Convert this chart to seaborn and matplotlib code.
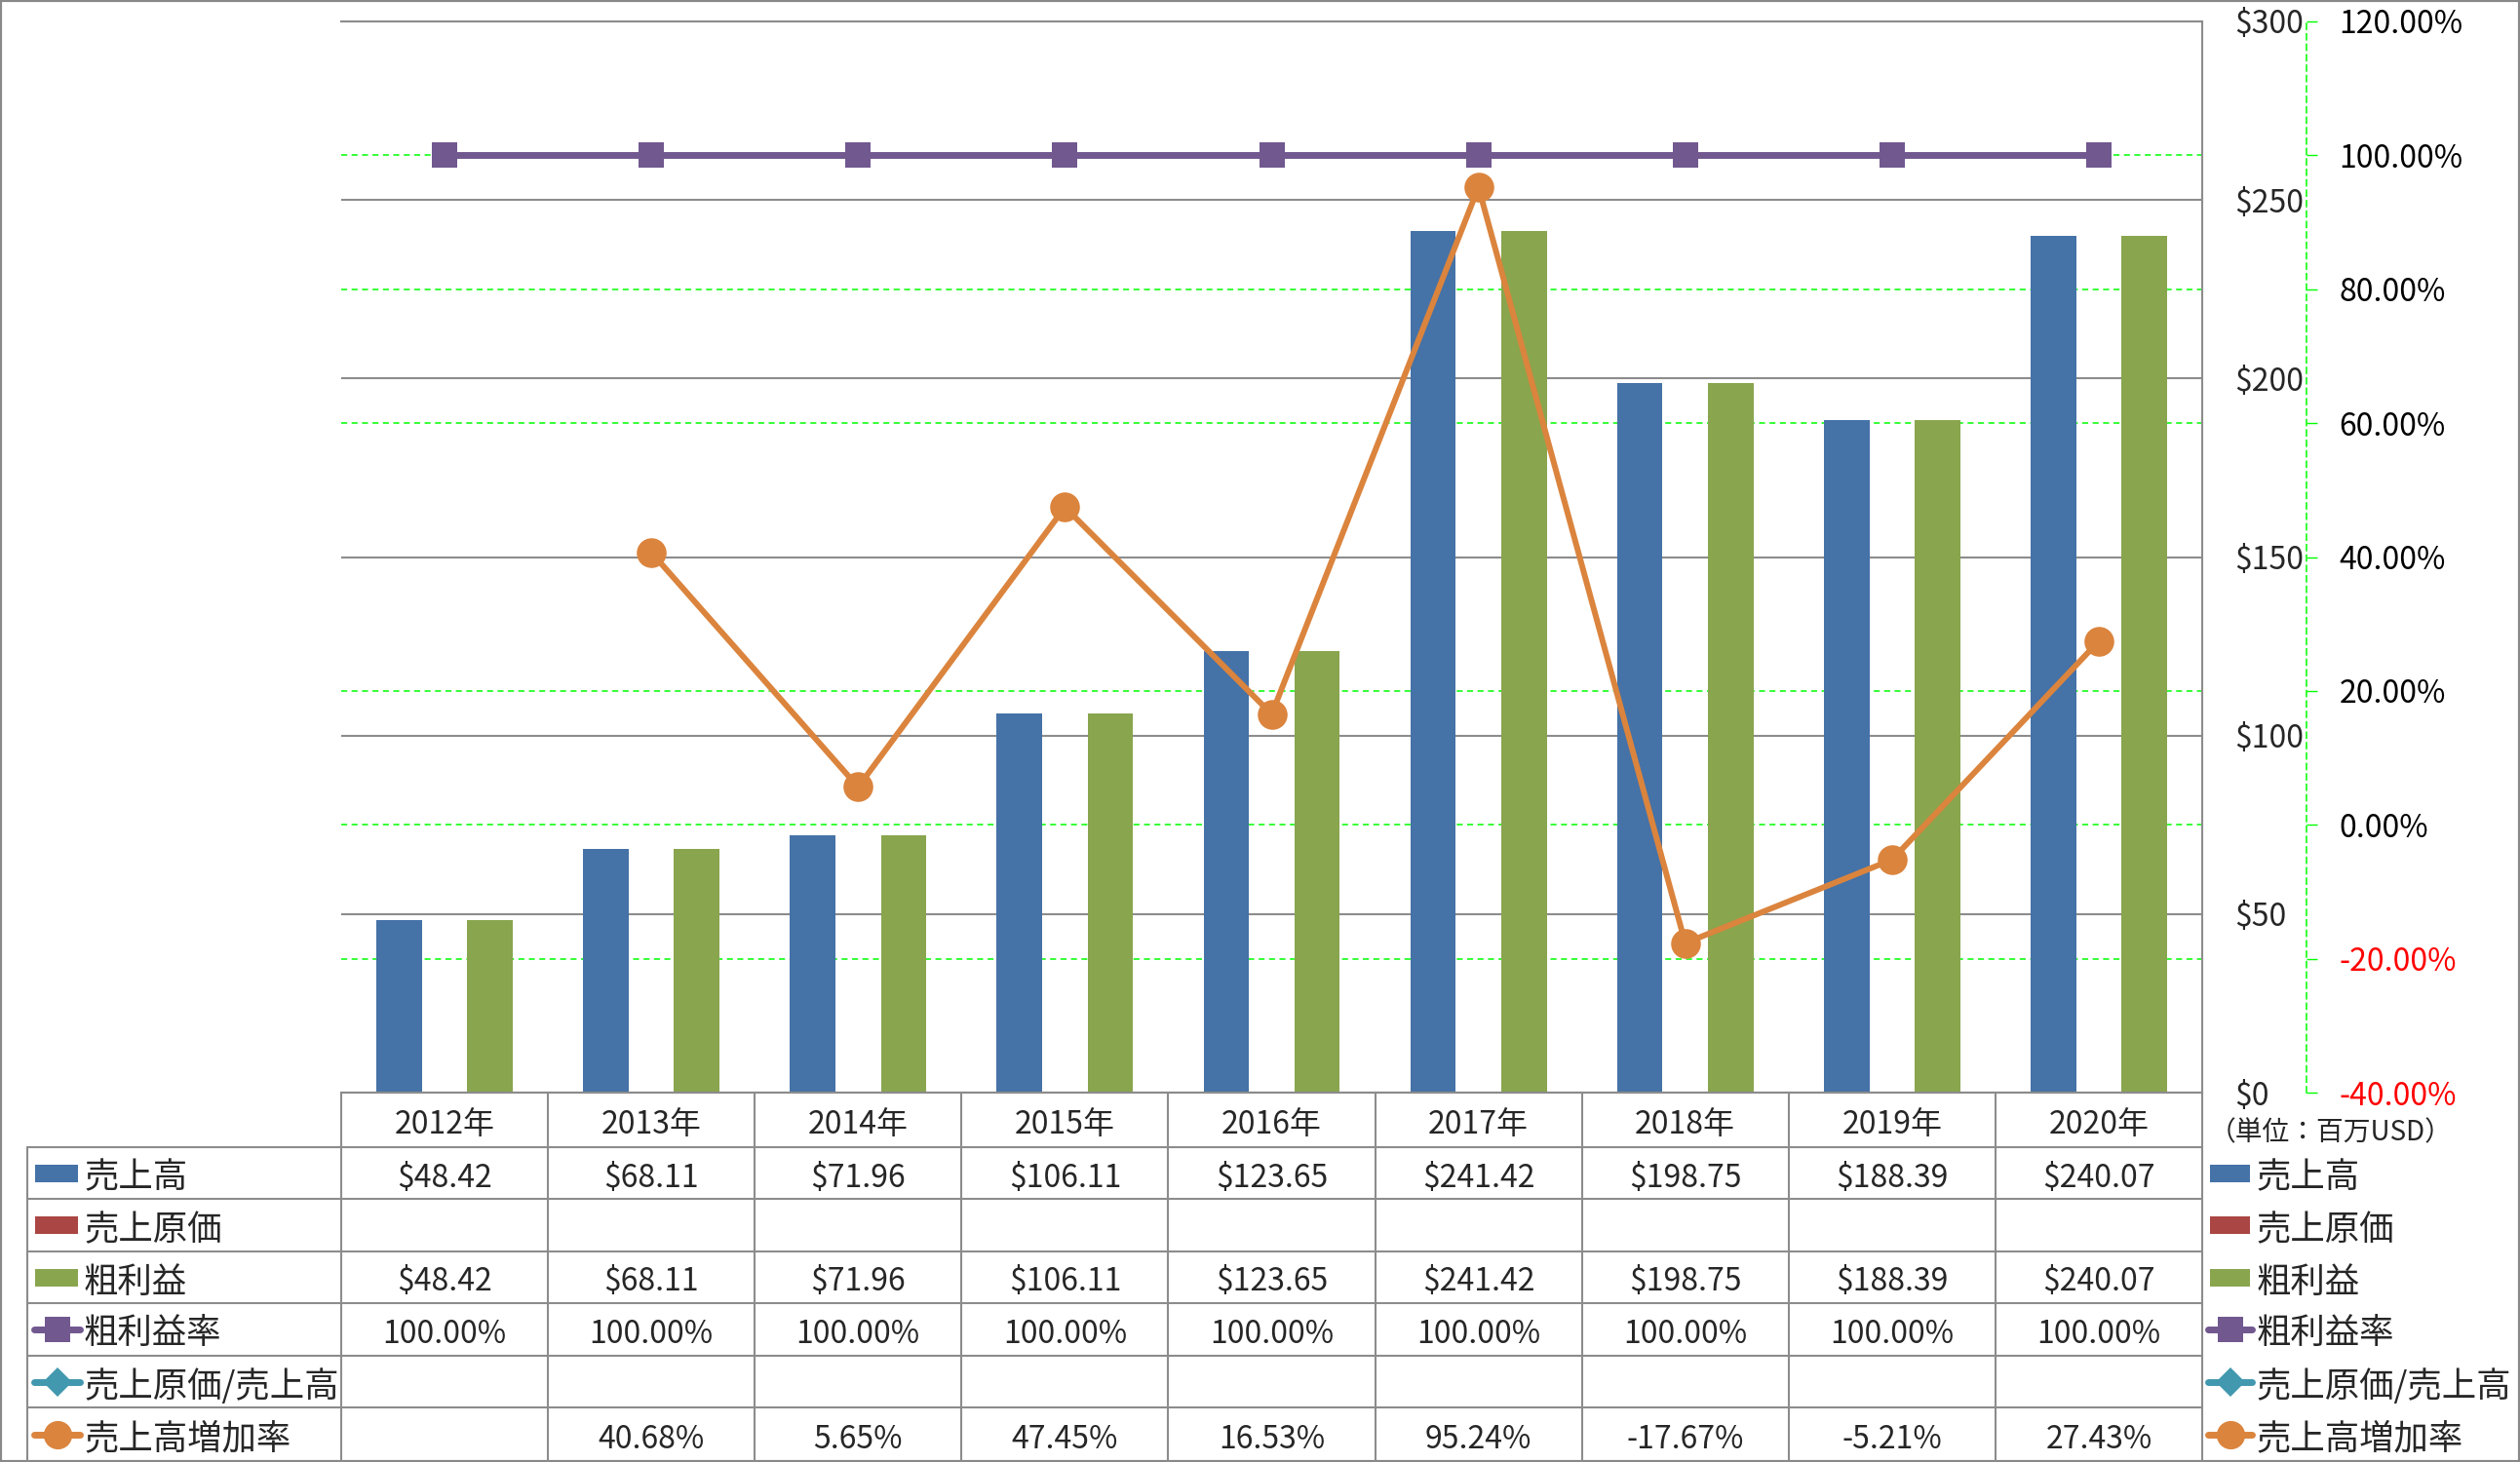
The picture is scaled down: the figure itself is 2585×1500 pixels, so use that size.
import matplotlib
matplotlib.use("Agg")
import matplotlib.pyplot as plt
import matplotlib.transforms as mtransforms
from matplotlib.lines import Line2D
from matplotlib.patches import Rectangle
import numpy as np
import pandas as pd
import seaborn as sns

# data
years = ["2012年", "2013年", "2014年", "2015年", "2016年", "2017年", "2018年", "2019年", "2020年"]
sales = [48.42, 68.11, 71.96, 106.11, 123.65, 241.42, 198.75, 188.39, 240.07]
cost = [None] * 9
gross = [48.42, 68.11, 71.96, 106.11, 123.65, 241.42, 198.75, 188.39, 240.07]
margin = [100.0] * 9
cost_ratio = [None] * 9
growth = [None, 40.68, 5.65, 47.45, 16.53, 95.24, -17.67, -5.21, 27.43]

money_ticks = [0, 50, 100, 150, 200, 250, 300]
pct_ticks = [-40, -20, 0, 20, 40, 60, 80, 100, 120]
unit_label = "（単位：百万USD）"

c_sales, c_cost, c_gross = "#4572A7", "#AA4643", "#89A54E"
c_margin, c_ratio, c_growth = "#71588F", "#4198AF", "#DB843D"
grid_gray = "#8c8c8c"

sns.set_style("white")
plt.rcParams['font.family'] = ['Noto Sans CJK JP', 'DejaVu Sans']
plt.rcParams['text.parse_math'] = False

W, H = 2585, 1500
fig = plt.figure(figsize=(W / 100, H / 100), dpi=100)
def fx(px): return px / W
def fy(py): return 1 - py / H

ax = fig.add_axes([fx(350), fy(1121), fx(2259) - fx(350), fy(22) - fy(1121)])
ax_pct = ax.twinx()
ax_line = ax.twinx()
ax_pct.set_zorder(0)
ax.set_zorder(1)
ax_line.set_zorder(2)
ax.patch.set_visible(False)

# bars
bar_df = pd.DataFrame({
    "year": years * 3,
    "series": ["売上高"] * 9 + ["売上原価"] * 9 + ["粗利益"] * 9,
    "value": sales + [v if v is not None else 0 for v in cost] + gross,
})
sns.barplot(data=bar_df, x="year", y="value", hue="series",
            hue_order=["売上高", "売上原価", "粗利益"],
            palette=[c_sales, c_cost, c_gross], width=0.66, gap=0,
            saturation=1, linewidth=0, errorbar=None, legend=False, ax=ax)

# lines
pos = np.arange(len(years))
line_df = pd.DataFrame({"pos": pos, "margin": margin,
                        "growth": [np.nan if v is None else v for v in growth]})
sns.lineplot(data=line_df, x="pos", y="margin", ax=ax_line, color=c_margin,
             marker="s", markersize=19, markeredgewidth=0, linewidth=5)
sns.lineplot(data=line_df.dropna(), x="pos", y="growth", ax=ax_line, color=c_growth,
             marker="o", markersize=22, markeredgewidth=0, linewidth=4.3)

# primary axis
ax.set_xlim(-0.5, len(years) - 0.5)
ax.set_ylim(0, 300)
ax.set_yticks(money_ticks)
ax.set_yticklabels([f"${v}" for v in money_ticks])
ax.yaxis.tick_right()
ax.tick_params(axis="y", length=0, pad=24, labelsize=23)
ax.set_xticks([])
ax.set_xlabel("")
ax.set_ylabel("")
ax.grid(axis="y", color=grid_gray, linewidth=1.5)
ax.set_axisbelow(True)
ax.spines["left"].set_visible(False)
for s in ["top", "right", "bottom"]:
    ax.spines[s].set_color(grid_gray)
    ax.spines[s].set_linewidth(1.5)

# percent axis
ax_pct.set_ylim(-40, 120)
ax_pct.set_yticks(pct_ticks)
ax_pct.set_yticklabels([f"{v:.2f}%" for v in pct_ticks])
ax_pct.grid(axis="y", color="#00ff00", linestyle=(0, (4, 3)), linewidth=1.1)
ax_pct.spines["right"].set_position(("outward", 77))
ax_pct.spines["right"].set_color("#00ff00")
ax_pct.spines["right"].set_linestyle((0, (4, 3)))
ax_pct.spines["right"].set_linewidth(1.1)
for s in ["left", "top", "bottom"]:
    ax_pct.spines[s].set_visible(False)
ax_pct.tick_params(axis="y", direction="out", length=8, width=1, color="#00ff00",
                   pad=16, labelsize=23)
for t, v in zip(ax_pct.yaxis.get_major_ticks(), pct_ticks):
    col = "red" if v < 0 else "black"
    t.label1.set_color(col)
    t.label2.set_color(col)
ax_pct.set_ylabel("")

ax_line.set_ylim(-40, 120)
ax_line.set_yticks([])
ax_line.set_xlabel("")
ax_line.set_ylabel("")
for s in ax_line.spines.values():
    s.set_visible(False)
ax.set_xlim(-0.5, len(years) - 0.5)

# data table below the plot
trans = mtransforms.blended_transform_factory(ax.transData, fig.transFigure)
row_edges = [1121, 1177, 1230, 1284, 1337, 1391, 1444, 1499]
n = len(years)
txt_dy = 5  # CJK font sits a little high with va="center"

def money(v): return "" if v is None else f"${v:.2f}"
def pct(v): return "" if v is None else f"{v:.2f}%"

table_rows = [
    ("売上高", sales, money, "bar", c_sales, None),
    ("売上原価", cost, money, "bar", c_cost, None),
    ("粗利益", gross, money, "bar", c_gross, None),
    ("粗利益率", margin, pct, "line", c_margin, "s"),
    ("売上原価/売上高", cost_ratio, pct, "line", c_ratio, "D"),
    ("売上高増加率", growth, pct, "line", c_growth, "o"),
]

lc = dict(color=grid_gray, linewidth=1.5)
fig.add_artist(Line2D([-0.5, n - 0.5], [fy(1121)] * 2, transform=trans, **lc))
for e in row_edges[1:-1]:
    fig.add_artist(Line2D([fx(28), fx(350)], [fy(e)] * 2, transform=fig.transFigure, **lc))
    fig.add_artist(Line2D([-0.5, n - 0.5], [fy(e)] * 2, transform=trans, **lc))
for k in range(n + 1):
    fig.add_artist(Line2D([k - 0.5] * 2, [fy(1121), fy(1500)], transform=trans, **lc))
fig.add_artist(Line2D([fx(28)] * 2, [fy(1177), fy(1500)], transform=fig.transFigure, **lc))

hy = fy((row_edges[0] + row_edges[1]) / 2 + txt_dy)
for i, yr in enumerate(years):
    fig.text(i, hy, yr, transform=trans, ha="center", va="center", fontsize=23)

def draw_icon(x0, x1, yc, kind, color, marker):
    if kind == "bar":
        fig.add_artist(Rectangle((fx(x0), fy(yc + 9)), fx(x1 - x0), 18 / H,
                                 transform=fig.transFigure, color=color, lw=0))
    else:
        ms = {"s": 19, "D": 15, "o": 21}[marker]
        fig.add_artist(Line2D([fx(x0), fx((x0 + x1) / 2), fx(x1)], [fy(yc)] * 3,
                              transform=fig.transFigure, color=color, lw=5,
                              marker=marker, markevery=[1], markersize=ms,
                              markeredgewidth=0, solid_capstyle="round"))

for r, (name, vals, fmt, kind, color, marker) in enumerate(table_rows):
    yc = (row_edges[r + 1] + row_edges[r + 2]) / 2
    if kind == "bar":
        draw_icon(36, 80, yc, kind, color, marker)
        draw_icon(2267, 2308, yc, kind, color, marker)
    else:
        draw_icon(35, 82, yc, kind, color, marker)
        draw_icon(2265, 2310, yc, kind, color, marker)
    ty = fy(yc + txt_dy)
    fig.text(fx(86), ty, name, ha="left", va="center", fontsize=25.5)
    fig.text(fx(2315), ty, name, ha="left", va="center", fontsize=25.5)
    for i, v in enumerate(vals):
        fig.text(i, ty, fmt(v), transform=trans, ha="center", va="center", fontsize=23)

fig.text(fx(2391), fy(1162), unit_label, ha="center", va="center", fontsize=20)

fig.patches.append(Rectangle((0, 0), 1, 1, transform=fig.transFigure, fill=False,
                             edgecolor="#888888", linewidth=3))

fig.savefig("out.png", dpi=100)
